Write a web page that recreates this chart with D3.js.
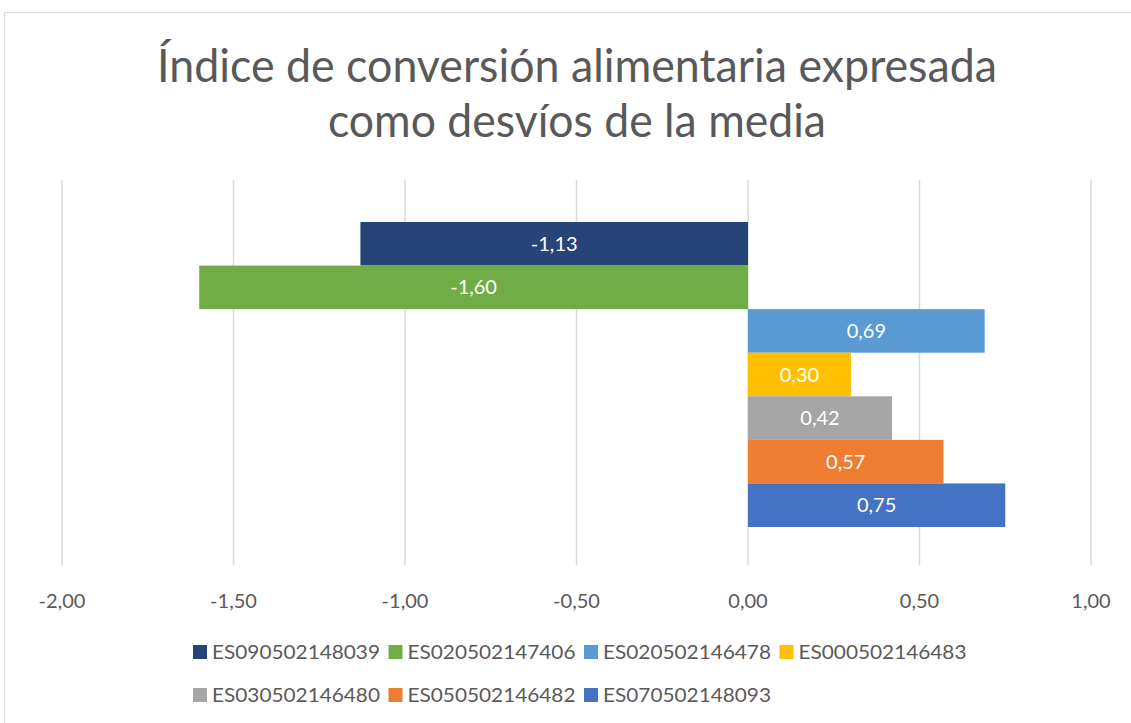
<!DOCTYPE html>
<html>
  <head>
    <meta charset="utf-8">
    <script src="https://d3js.org/d3.v7.min.js"></script>
    <style>
      body { margin: 0; background: #fff; }
      text { font-family: Lato, "Open Sans", sans-serif; fill: #595959; }
    </style>
  </head>
<body>
  <script type="text/javascript">
    // series shown top to bottom
    var series = ["ES090502148039", "ES020502147406", "ES020502146478", "ES000502146483",
                  "ES030502146480", "ES050502146482", "ES070502148093"];
    var values = [-1.13, -1.60, 0.69, 0.30, 0.42, 0.57, 0.75];
    var colors = ["#264478", "#70AD47", "#5B9BD5", "#FFC000", "#A5A5A5", "#ED7D31", "#4472C4"];
    var ticks = [-2, -1.5, -1, -0.5, 0, 0.5, 1];
    var titleLines = ["Índice de conversión alimentaria expresada", "como desvíos de la media"];

    var width = 1131, height = 723;
    var es = d3.formatLocale({decimal: ",", thousands: ".", grouping: [3], currency: ["", " €"], minus: "-"});
    var fmt = es.format(".2f");

    var svg = d3.select("body").append("svg")
        .attr("width", width)
        .attr("height", height);

    // chart border
    svg.append("path")
        .attr("d", "M4.5,723 V12.5 H1131")
        .attr("fill", "none")
        .attr("stroke", "#d9d9d9")
        .attr("stroke-width", 1);

    var plotTop = 180, plotBottom = 565;
    var x = d3.scaleLinear().domain([-2, 1]).range([62, 1091]);
    var y = d3.scaleBand().domain(series).range([222, 527]).padding(0);

    // gridlines
    svg.append("g").selectAll("line")
        .data(ticks)
        .join("line")
          .attr("x1", d => x(d)).attr("x2", d => x(d))
          .attr("y1", plotTop).attr("y2", plotBottom)
          .attr("stroke", "#d9d9d9")
          .attr("stroke-width", 1.5);

    // tick labels
    svg.append("g").selectAll("text")
        .data(ticks)
        .join("text")
          .attr("x", d => x(d))
          .attr("y", 608)
          .attr("text-anchor", "middle")
          .attr("font-size", 20)
          .text(d => fmt(d));

    // bars
    var bars = svg.append("g");
    bars.selectAll("rect")
        .data(values)
        .join("rect")
          .attr("x", d => x(Math.min(0, d)))
          .attr("width", d => Math.abs(x(d) - x(0)))
          .attr("y", (d, i) => y(series[i]))
          .attr("height", y.bandwidth())
          .attr("fill", (d, i) => colors[i]);

    bars.selectAll("text")
        .data(values)
        .join("text")
          .attr("x", d => (x(d) + x(0)) / 2)
          .attr("y", (d, i) => y(series[i]) + y.bandwidth() / 2 + 7)
          .attr("text-anchor", "middle")
          .attr("font-size", 20)
          .style("fill", "#fff")
          .text(d => fmt(d));

    // title (widths squeezed to the narrower original face)
    var titleWidths = [840, 498];
    svg.append("g").selectAll("text")
        .data(titleLines)
        .join("text")
          .attr("x", 577)
          .attr("y", (d, i) => 82 + i * 55)
          .attr("text-anchor", "middle")
          .attr("font-size", 46)
          .attr("textLength", (d, i) => titleWidths[i])
          .attr("lengthAdjust", "spacingAndGlyphs")
          .text(d => d);

    // legend: two rows, fixed pitch
    var rows = [[0, 1, 2, 3], [4, 5, 6]];
    var legend = svg.append("g");
    rows.forEach(function(row, r) {
      row.forEach(function(i, j) {
        var lx = 193 + j * 195.5, ly = 652 + r * 43;
        legend.append("rect")
            .attr("x", lx).attr("y", ly - 7)
            .attr("width", 14).attr("height", 14)
            .attr("fill", colors[i]);
        legend.append("text")
            .attr("x", lx + 19).attr("y", ly + 7)
            .attr("font-size", 20)
            .attr("textLength", 168)
            .attr("lengthAdjust", "spacingAndGlyphs")
            .text(series[i]);
      });
    });
  </script>
</body>
</html>
